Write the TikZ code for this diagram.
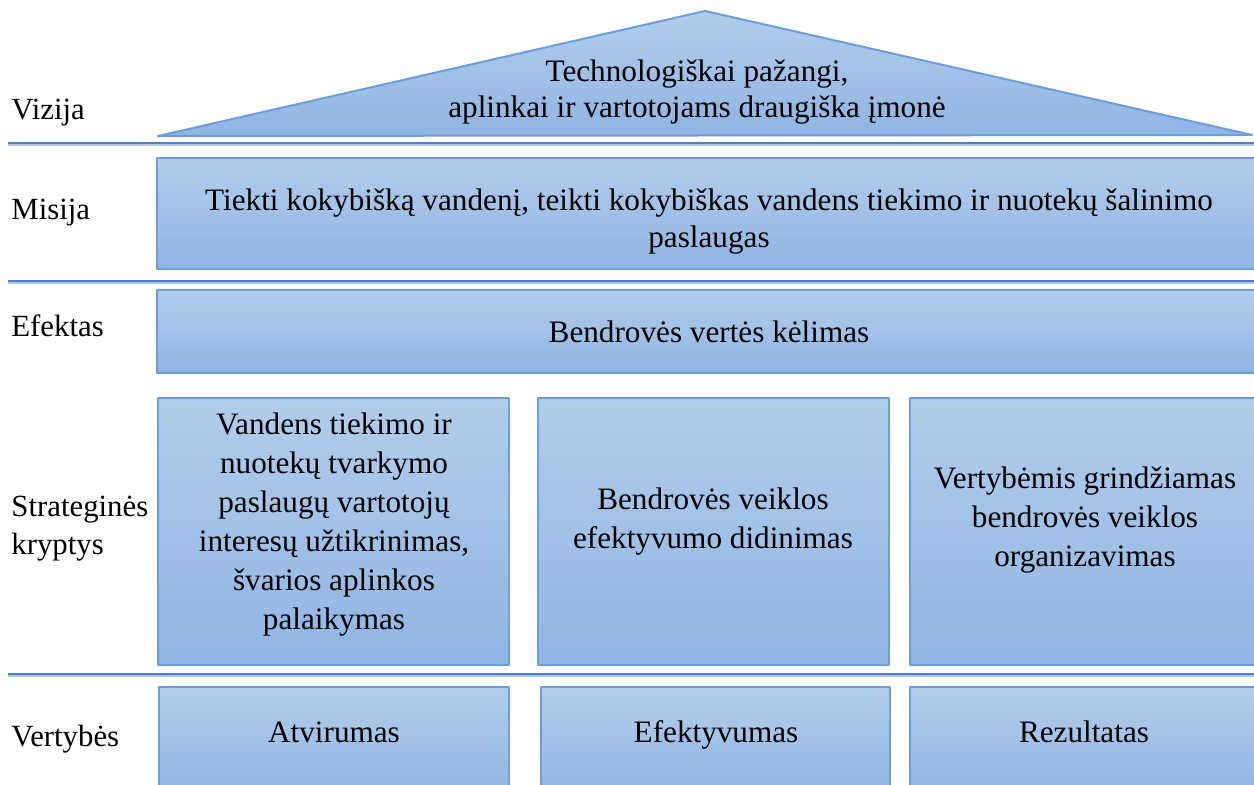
\documentclass[tikz,border=0pt]{standalone}
\usepackage{fontspec}
\setmainfont{Liberation Serif}
\definecolor{boxtop}{RGB}{178,205,235}
\definecolor{boxbot}{RGB}{143,181,227}
\definecolor{boxline}{RGB}{108,158,219}
\definecolor{sepline}{RGB}{79,129,199}
\definecolor{sepshadow}{RGB}{175,198,232}
\begin{document}
\begin{tikzpicture}[x=0.5pt, y=-0.5pt,
  box/.style={draw=boxline, line width=1pt, line join=round, top color=boxtop, bottom color=boxbot},
  txt/.style={align=center, font=\fontsize{15.6}{19.5}\selectfont},
  lbl/.style={anchor=base west, align=left, font=\fontsize{15.4}{19}\selectfont, inner sep=0pt}]
\useasboundingbox (0,0) rectangle (1254,785);
\clip (0,0) rectangle (1254,785);

\draw[box] (705,11) -- (1252,135) -- (158,136) -- cycle;
\draw[box] (157,158) rectangle (1264,269);
\draw[box] (157,290) rectangle (1264,373);
\draw[box] (158,398) rectangle (509,665);
\draw[box] (538,398) rectangle (889,665);
\draw[box] (910,398) rectangle (1264,665);
\draw[box] (159,687) rectangle (509,800);
\draw[box] (541,687) rectangle (890,800);
\draw[box] (910,687) rectangle (1264,800);

\foreach \y in {143, 281, 674} {
  \draw[sepshadow, line width=1pt] (8,\y+2.5) -- (1254,\y+2.5);
  \draw[sepline, line width=0.8pt] (8,\y) -- (1254,\y);
}

\node[txt, font=\fontsize{15.6}{18}\selectfont] (vizija) at (697,92) {Technologiškai pažangi,\\aplinkai ir vartotojams draugiška įmonė};
\node[txt, font=\fontsize{15.6}{18.5}\selectfont] (misija) at (709,222) {Tiekti kokybišką vandenį, teikti kokybiškas vandens tiekimo ir nuotekų šalinimo\\paslaugas};
\node[txt, anchor=base] (efektas) at (709,343) {Bendrovės vertės kėlimas};
\node[txt] (kryptis1) at (334,525) {Vandens tiekimo ir\\nuotekų tvarkymo\\paslaugų vartotojų\\interesų užtikrinimas,\\švarios aplinkos\\palaikymas};
\node[txt] (kryptis2) at (713,522) {Bendrovės veiklos\\efektyvumo didinimas};
\node[txt] (kryptis3) at (1085,520) {Vertybėmis grindžiamas\\bendrovės veiklos\\organizavimas};
\node[txt, anchor=base] (vertybe1) at (334,743) {Atvirumas};
\node[txt, anchor=base] (vertybe2) at (716,743) {Efektyvumas};
\node[txt, anchor=base] (vertybe3) at (1084,743) {Rezultatas};

\node[lbl] (lvizija) at (11,120) {Vizija};
\node[lbl] (lmisija) at (11,220) {Misija};
\node[lbl] (lefektas) at (11,337) {Efektas};
\node[lbl, anchor=west] (lkryptys) at (11,529) {Strateginės\\kryptys};
\node[lbl] (lvertybes) at (11,747) {Vertybės};
\end{tikzpicture}
\end{document}
